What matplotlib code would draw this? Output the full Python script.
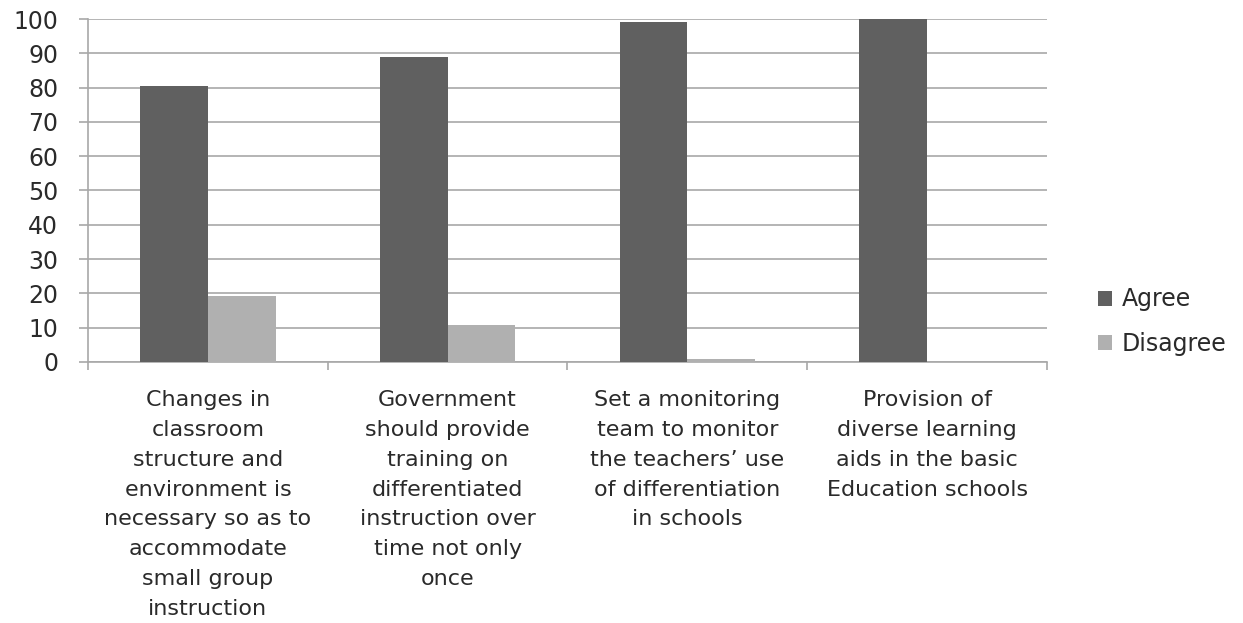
import matplotlib.pyplot as plt
import numpy as np

plt.rcParams['font.family'] = ['DejaVu Sans']

categories = [
    "Changes in\nclassroom\nstructure and\nenvironment is\nnecessary so as to\naccommodate\nsmall group\ninstruction",
    "Government\nshould provide\ntraining on\ndifferentiated\ninstruction over\ntime not only\nonce",
    "Set a monitoring\nteam to monitor\nthe teachers\u2019 use\nof differentiation\nin schools",
    "Provision of\ndiverse learning\naids in the basic\nEducation schools",
]
agree = [80.5, 89, 99, 100]
disagree = [19.3, 10.8, 0.8, 0]

fig = plt.figure(figsize=(12.43, 6.23), dpi=100)
ax = fig.add_axes([0.0708, 0.419, 0.7715, 0.5505])

x = np.arange(len(categories))
w = 0.283
ax.bar(x - w/2, agree, w, color="#606060", label="Agree", zorder=3)
ax.bar(x + w/2, disagree, w, color="#b0b0b0", label="Disagree", zorder=3)

ax.set_xlim(-0.5, 3.5)
ax.set_ylim(0, 100)
ax.set_yticks(np.arange(0, 101, 10))
ax.yaxis.grid(True, color="#a8a8a8", linewidth=1.2, zorder=0)
ax.tick_params(axis="y", length=6.5, color="#a8a8a8", width=1.2, labelsize=17, pad=15, labelcolor="#2a2a2a")

# category boundaries as major ticks, labels on minor ticks
ax.set_xticks(np.arange(-0.5, 4, 1))
ax.set_xticklabels([])
ax.tick_params(axis="x", which="major", length=6, color="#a8a8a8", width=1.2)
ax.set_xticks(x, minor=True)
ax.set_xticklabels(categories, minor=True, fontsize=16, linespacing=1.62, color="#2a2a2a")
ax.tick_params(axis="x", which="minor", length=0, pad=20)

for s in ["top", "right"]:
    ax.spines[s].set_visible(False)
for s in ["left", "bottom"]:
    ax.spines[s].set_color("#a8a8a8")
    ax.spines[s].set_linewidth(1.2)

ax.legend(loc="center left", bbox_to_anchor=(1.053, 0.118), frameon=False, fontsize=17,
          borderaxespad=0, borderpad=0,
          handlelength=0.6, handleheight=0.6, handletextpad=0.4, labelspacing=0.85,
          labelcolor="#2a2a2a")

plt.savefig("out.png")
